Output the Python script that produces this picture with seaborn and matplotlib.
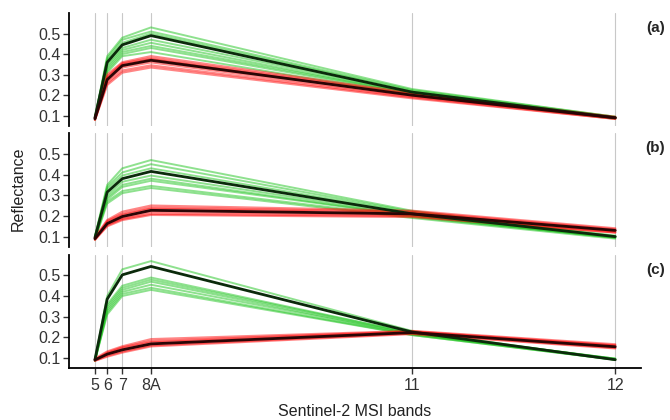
import numpy as np
import pandas as pd
import seaborn as sns
import matplotlib
matplotlib.use("Agg")
import matplotlib.pyplot as plt

# Sentinel-2 MSI red-edge / NIR / SWIR bands and their centre wavelengths (nm)
band_labels = ["5", "6", "7", "8A", "11", "12"]
band_wl = [705, 740, 783, 865, 1610, 2190]

# panel (a)
a_green = [
    [0.09, 0.39, 0.48, 0.53, 0.23, 0.095],
    [0.09, 0.38, 0.47, 0.51, 0.225, 0.095],
    [0.09, 0.37, 0.455, 0.50, 0.22, 0.09],
    [0.09, 0.35, 0.43, 0.47, 0.215, 0.09],
    [0.085, 0.34, 0.42, 0.455, 0.21, 0.09],
    [0.085, 0.33, 0.41, 0.44, 0.21, 0.09],
    [0.085, 0.32, 0.40, 0.43, 0.205, 0.09],
    [0.08, 0.31, 0.39, 0.41, 0.20, 0.085],
]
a_red = [
    [0.09, 0.30, 0.36, 0.39, 0.21, 0.095],
    [0.09, 0.29, 0.355, 0.38, 0.205, 0.09],
    [0.085, 0.285, 0.35, 0.375, 0.20, 0.09],
    [0.085, 0.27, 0.335, 0.36, 0.195, 0.09],
    [0.08, 0.26, 0.32, 0.345, 0.19, 0.085],
    [0.08, 0.25, 0.31, 0.335, 0.185, 0.085],
]
a_green_mean = [0.09, 0.36, 0.445, 0.49, 0.215, 0.09]
a_red_mean = [0.085, 0.276, 0.344, 0.37, 0.20, 0.09]

# panel (b)
b_green = [
    [0.10, 0.35, 0.43, 0.47, 0.225, 0.105],
    [0.10, 0.34, 0.41, 0.45, 0.22, 0.10],
    [0.095, 0.33, 0.395, 0.43, 0.215, 0.10],
    [0.095, 0.30, 0.365, 0.395, 0.205, 0.10],
    [0.09, 0.29, 0.35, 0.38, 0.20, 0.095],
    [0.09, 0.28, 0.34, 0.37, 0.20, 0.095],
    [0.09, 0.27, 0.32, 0.345, 0.195, 0.095],
    [0.085, 0.26, 0.31, 0.335, 0.19, 0.09],
]
b_red = [
    [0.095, 0.18, 0.22, 0.25, 0.225, 0.14],
    [0.09, 0.175, 0.21, 0.24, 0.22, 0.135],
    [0.09, 0.17, 0.205, 0.235, 0.215, 0.13],
    [0.09, 0.16, 0.19, 0.22, 0.205, 0.125],
    [0.085, 0.155, 0.185, 0.21, 0.20, 0.12],
    [0.085, 0.15, 0.18, 0.205, 0.195, 0.12],
]
b_green_mean = [0.095, 0.315, 0.38, 0.415, 0.21, 0.10]
b_red_mean = [0.09, 0.163, 0.197, 0.227, 0.21, 0.13]

# panel (c)
c_green = [
    [0.09, 0.40, 0.53, 0.57, 0.23, 0.09],
    [0.09, 0.36, 0.45, 0.49, 0.22, 0.095],
    [0.09, 0.35, 0.44, 0.48, 0.22, 0.095],
    [0.085, 0.34, 0.43, 0.47, 0.215, 0.095],
    [0.085, 0.33, 0.42, 0.455, 0.215, 0.09],
    [0.085, 0.32, 0.41, 0.44, 0.21, 0.09],
    [0.085, 0.31, 0.40, 0.43, 0.21, 0.09],
]
c_red = [
    [0.095, 0.13, 0.155, 0.19, 0.23, 0.165],
    [0.09, 0.125, 0.15, 0.18, 0.228, 0.16],
    [0.09, 0.12, 0.145, 0.175, 0.225, 0.158],
    [0.085, 0.11, 0.13, 0.16, 0.218, 0.148],
    [0.085, 0.105, 0.125, 0.155, 0.215, 0.145],
]
c_green_mean = [0.09, 0.385, 0.503, 0.544, 0.225, 0.09]
c_red_mean = [0.089, 0.117, 0.138, 0.167, 0.222, 0.153]

panel_names = ["(a)", "(b)", "(c)"]
yticks = [0.1, 0.2, 0.3, 0.4, 0.5]


def to_long(curves):
    rows = []
    for i, c in enumerate(curves):
        for wl, v in zip(band_wl, c):
            rows.append({"sample": i, "wl": wl, "refl": v})
    return pd.DataFrame(rows)


sns.set_style("white")
plt.rcParams["font.family"] = ["Liberation Sans", "DejaVu Sans"]

fig = plt.figure(figsize=(6.7, 4.2), dpi=100)
boxes = [(0.103, 0.700, 0.854, 0.269),
         (0.103, 0.412, 0.854, 0.271),
         (0.103, 0.124, 0.854, 0.269)]
panels = [
    (a_green, a_red, a_green_mean, a_red_mean),
    (b_green, b_red, b_green_mean, b_red_mean),
    (c_green, c_red, c_green_mean, c_red_mean),
]

for k, (box, (gr, rd, gm, rm)) in enumerate(zip(boxes, panels)):
    ax = fig.add_axes(box)
    for wl in band_wl:
        ax.axvline(wl, color="#c8c8c8", lw=0.8, zorder=0)
    sns.lineplot(data=to_long(gr), x="wl", y="refl", units="sample", estimator=None,
                 color="#1fc41f", alpha=0.5, lw=1.4, ax=ax)
    sns.lineplot(data=to_long(rd), x="wl", y="refl", units="sample", estimator=None,
                 color="#ff0d0d", alpha=0.5, lw=1.6, ax=ax)
    sns.lineplot(data=to_long([gm]), x="wl", y="refl", units="sample", estimator=None,
                 color="#0b2a0b", lw=2.0, ax=ax)
    sns.lineplot(data=to_long([rm]), x="wl", y="refl", units="sample", estimator=None,
                 color="#2a0505", lw=2.0, ax=ax)

    ax.set_xlim(631, 2264)
    ax.set_ylim(0.05, 0.6)
    ax.set_yticks(yticks)
    ax.set_yticklabels([f"{t:.1f}" for t in yticks], fontsize=11.5, color="#333333")
    ax.set_ylabel("")
    ax.set_xlabel("")
    for s in ["top", "right"]:
        ax.spines[s].set_visible(False)
    ax.spines["left"].set_color("black")
    ax.spines["left"].set_linewidth(1.3)
    ax.tick_params(axis="y", left=True, length=4, width=1, color="#333333", pad=2)
    if k < 2:
        ax.spines["bottom"].set_visible(False)
        ax.set_xticks([])
    else:
        ax.spines["bottom"].set_color("black")
        ax.spines["bottom"].set_linewidth(1.3)
        ax.set_xticks(band_wl)
        ax.set_xticklabels(band_labels, fontsize=11.5, color="#333333")
        ax.tick_params(axis="x", bottom=True, length=4, width=1, color="#333333", pad=3)
        ax.set_xlabel("Sentinel-2 MSI bands", fontsize=11.5, color="#222222", labelpad=8)
    fig.text(0.978, box[1] + box[3] - 0.035, panel_names[k], fontsize=11,
             fontweight="bold", ha="center", va="center")

fig.text(0.027, 0.55, "Reflectance", rotation=90, fontsize=11.5, ha="center", va="center",
         color="#222222")

fig.savefig("out.png", dpi=100)
